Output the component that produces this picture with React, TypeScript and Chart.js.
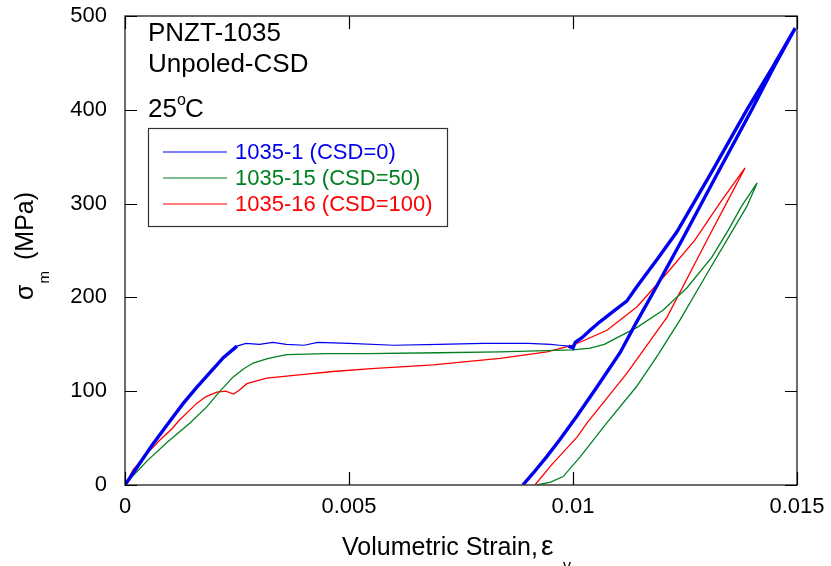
import React, { useEffect, useRef } from 'react';
import { Chart, registerables } from 'chart.js';

Chart.register(...registerables);

const FONT = '"Liberation Sans", Arial, Helvetica, sans-serif';

// Series labels and colours
const seriesLabels = ['1035-1 (CSD=0)', '1035-15 (CSD=50)', '1035-16 (CSD=100)'];
const seriesColors = ['#0000f0', '#008020', '#ff0000'];

// Axis ticks
const xTicks = [0, 0.005, 0.01, 0.015];
const yTicks = [0, 100, 200, 300, 400, 500];

// 1035-1 (CSD=0): loading to peak, then unloading
const blueStrain = [
  0, 0.0003, 0.0006, 0.001, 0.0013, 0.0016, 0.0019, 0.0022, 0.0025, 0.0027,
  0.003, 0.0033, 0.0036, 0.004, 0.0043, 0.005, 0.006, 0.007, 0.008, 0.009,
  0.0095, 0.0097, 0.0099, 0.01, 0.01005, 0.0102, 0.01038, 0.0106, 0.0109, 0.0112,
  0.01142, 0.0119, 0.01232, 0.0131, 0.01388, 0.01445, 0.01496,
  0.0145, 0.01399, 0.0132, 0.01243, 0.0118, 0.0114, 0.01105, 0.0105, 0.01008,
  0.0097, 0.00941, 0.0091, 0.00888,
];
const blueStress = [
  0, 21, 42, 68, 87, 104, 120, 136, 148, 151,
  150, 152, 150, 149, 152, 151, 149, 150, 151, 151,
  150, 149, 148, 146, 152, 157, 165, 174, 185, 196,
  211, 242, 270, 334, 400, 445, 487,
  447, 400, 330, 261, 206, 172, 141, 102, 73,
  48, 30, 12, 0,
];

// 1035-15 (CSD=50)
const greenStrain = [
  0, 0.0002, 0.0005, 0.00093, 0.00145, 0.00182, 0.0021, 0.00241, 0.00265, 0.00286,
  0.0032, 0.00361, 0.0045, 0.0054, 0.007, 0.00837, 0.0092, 0.01, 0.01038, 0.0107,
  0.0109, 0.01143, 0.012, 0.01254, 0.0131, 0.01347, 0.01376, 0.01411,
  0.01388, 0.01357, 0.013, 0.01239, 0.0119, 0.01142, 0.01075, 0.01016, 0.00978,
  0.0095, 0.00919,
];
const greenStress = [
  0, 11, 26, 45, 66, 83, 99, 115, 124, 130,
  135, 139, 140, 140, 141, 142, 143, 144, 146, 150,
  155, 168, 186, 210, 243, 272, 297, 322,
  297, 272, 226, 176, 139, 105, 66, 30, 9,
  3, 0,
];

// 1035-16 (CSD=100)
const redStrain = [
  0, 0.00018, 0.0005, 0.00078, 0.00105, 0.00119, 0.0016, 0.0018, 0.00205, 0.00225,
  0.00242, 0.00255, 0.00272, 0.00316, 0.004, 0.00464, 0.0055, 0.00688, 0.00837, 0.00942,
  0.01, 0.01076, 0.01143, 0.0121, 0.01272, 0.0133, 0.01384,
  0.01342, 0.01299, 0.0121, 0.0112, 0.01031, 0.01009, 0.00955, 0.00915,
];
const redStress = [
  0, 16, 34, 48, 60, 68, 87, 94, 99, 100,
  97, 101, 108, 114, 118, 121, 124, 128, 135, 142,
  149, 165, 190, 226, 261, 302, 338,
  300, 261, 179, 119, 66, 51, 23, 0,
];

const zip = (xs: number[], ys: number[]) => xs.map((x, i) => ({ x, y: ys[i] }));

// Target plot rectangle inside the 831x566 canvas
const AREA = { left: 125, top: 16, right: 797, bottom: 485 };

const decorPlugin = {
  id: 'decor',
  afterDraw(chart: any) {
    const { ctx, chartArea: a, scales } = chart;
    const xs = scales.x;
    const ys = scales.y;
    ctx.save();

    // frame
    ctx.strokeStyle = '#3c3c3c';
    ctx.lineWidth = 1.5;
    ctx.strokeRect(a.left, a.top, a.right - a.left, a.bottom - a.top);

    // inward ticks on all four sides
    ctx.strokeStyle = '#000';
    ctx.lineWidth = 1.2;
    ctx.beginPath();
    xs.ticks.forEach((t: any) => {
      const p = Math.round(xs.getPixelForValue(t.value)) + 0.5;
      ctx.moveTo(p, a.bottom);
      ctx.lineTo(p, a.bottom - 13);
      ctx.moveTo(p, a.top);
      ctx.lineTo(p, a.top + 13);
    });
    ys.ticks.forEach((t: any) => {
      const p = Math.round(ys.getPixelForValue(t.value)) + 0.5;
      ctx.moveTo(a.left, p);
      ctx.lineTo(a.left + 12, p);
      ctx.moveTo(a.right, p);
      ctx.lineTo(a.right - 12, p);
    });
    ctx.stroke();

    // annotation texts
    ctx.fillStyle = '#000';
    ctx.textAlign = 'left';
    ctx.textBaseline = 'alphabetic';
    ctx.font = `26px ${FONT}`;
    ctx.fillText('PNZT-1035', 148, 41);
    ctx.fillText('Unpoled-CSD', 148, 72);
    ctx.fillText('25', 148, 117);
    ctx.font = `16px ${FONT}`;
    ctx.fillText('o', 177, 105);
    ctx.font = `26px ${FONT}`;
    ctx.fillText('C', 185, 117);

    // legend
    const lx = 148, ly = 128, lw = 299, lh = 98;
    ctx.fillStyle = '#fff';
    ctx.fillRect(lx, ly, lw, lh);
    ctx.strokeStyle = '#333';
    ctx.lineWidth = 1.2;
    ctx.strokeRect(lx + 0.5, ly + 0.5, lw, lh);
    const rows = [152, 178, 204];
    ctx.font = `22px ${FONT}`;
    ctx.textBaseline = 'middle';
    chart.data.datasets.forEach((ds: any, i: number) => {
      const y = rows[i];
      ctx.strokeStyle = ds.borderColor;
      ctx.lineWidth = 1.2;
      ctx.beginPath();
      ctx.moveTo(163, y);
      ctx.lineTo(227, y);
      ctx.stroke();
      ctx.fillStyle = ds.borderColor;
      ctx.fillText(ds.label, 235, y + 1);
    });

    // x-axis title
    ctx.fillStyle = '#000';
    ctx.textBaseline = 'alphabetic';
    ctx.font = `25px ${FONT}`;
    ctx.fillText('Volumetric Strain,', 342, 555);
    ctx.font = `28px ${FONT}`;
    ctx.fillText('\u03b5', 541, 555);
    ctx.font = `16px ${FONT}`;
    ctx.fillText('v', 563, 571);

    // y-axis title (rotated)
    ctx.save();
    ctx.translate(33, 300);
    ctx.rotate(-Math.PI / 2);
    ctx.font = `25px ${FONT}`;
    ctx.fillText('\u03c3', 0, 0);
    const ws = ctx.measureText('\u03c3').width;
    ctx.font = `15px ${FONT}`;
    ctx.fillText('m', ws + 1, 16);
    ctx.font = `25px ${FONT}`;
    ctx.fillText('(MPa)', 40, 0);
    ctx.restore();

    ctx.restore();
  },
};

export default function App() {
  const canvasRef = useRef<HTMLCanvasElement | null>(null);

  useEffect(() => {
    document.body.style.margin = '0';
    const canvas = canvasRef.current;
    if (!canvas) return;

    const slopeWidth = (thick: number, thin: number) => (ctx: any) => {
      const a = ctx.p0.parsed;
      const b = ctx.p1.parsed;
      const dx = b.x - a.x;
      const s = dx === 0 ? Infinity : Math.abs((b.y - a.y) / dx);
      return s > 20000 ? thick : thin;
    };

    const padding = { left: 0, top: AREA.top, right: 831 - AREA.right, bottom: 0 };

    const options: any = {
      responsive: false,
      animation: false,
      devicePixelRatio: 1,
      layout: { padding },
      plugins: {
        legend: { display: false },
        tooltip: { enabled: false },
      },
      scales: {
        x: {
          type: 'linear',
          min: xTicks[0],
          max: xTicks[xTicks.length - 1],
          afterBuildTicks: (s: any) => {
            s.ticks = xTicks.map((v) => ({ value: v }));
          },
          afterFit: (s: any) => {
            s.height = 566 - AREA.bottom;
            s.paddingLeft = 0;
            s.paddingRight = 0;
          },
          grid: { display: false, drawTicks: false },
          border: { display: false },
          ticks: {
            color: '#000',
            padding: 9,
            maxRotation: 0,
            font: { family: FONT, size: 22 },
            callback: (v: any) => String(parseFloat(Number(v).toFixed(4))),
          },
        },
        y: {
          type: 'linear',
          min: yTicks[0],
          max: yTicks[yTicks.length - 1],
          afterBuildTicks: (s: any) => {
            s.ticks = yTicks.map((v) => ({ value: v }));
          },
          afterFit: (s: any) => {
            s.width = AREA.left;
            s.paddingTop = 0;
            s.paddingBottom = 0;
          },
          grid: { display: false, drawTicks: false },
          border: { display: false },
          ticks: {
            color: '#000',
            padding: 18,
            font: { family: FONT, size: 22 },
            callback: (v: any) => String(v),
          },
        },
      },
    };

    const chart = new Chart(canvas, {
      type: 'scatter',
      data: {
        datasets: [
          {
            label: seriesLabels[0],
            data: zip(blueStrain, blueStress),
            borderColor: seriesColors[0],
            backgroundColor: seriesColors[0],
            showLine: true,
            pointRadius: 0,
            borderWidth: 1.2,
            segment: { borderWidth: slopeWidth(3.4, 1.2) },
          },
          {
            label: seriesLabels[1],
            data: zip(greenStrain, greenStress),
            borderColor: seriesColors[1],
            backgroundColor: seriesColors[1],
            showLine: true,
            pointRadius: 0,
            borderWidth: 1.3,
          },
          {
            label: seriesLabels[2],
            data: zip(redStrain, redStress),
            borderColor: seriesColors[2],
            backgroundColor: seriesColors[2],
            showLine: true,
            pointRadius: 0,
            borderWidth: 1.3,
          },
        ],
      },
      options,
      plugins: [decorPlugin],
    } as any);

    // Nudge layout padding so the plot rectangle lands on the target box
    for (let i = 0; i < 4; i++) {
      const a = chart.chartArea;
      const dl = AREA.left - a.left;
      const dt = AREA.top - a.top;
      const dr = a.right - AREA.right;
      const db = a.bottom - AREA.bottom;
      if (Math.abs(dl) < 0.5 && Math.abs(dt) < 0.5 && Math.abs(dr) < 0.5 && Math.abs(db) < 0.5) break;
      const p = (chart.config as any).options.layout.padding;
      p.left += dl;
      p.top += dt;
      p.right += dr;
      p.bottom += db;
      chart.update();
    }

    return () => chart.destroy();
  }, []);

  return (
    <div style={{ width: 831, height: 566 }}>
      <canvas ref={canvasRef} width={831} height={566} style={{ display: 'block' }} />
    </div>
  );
}
